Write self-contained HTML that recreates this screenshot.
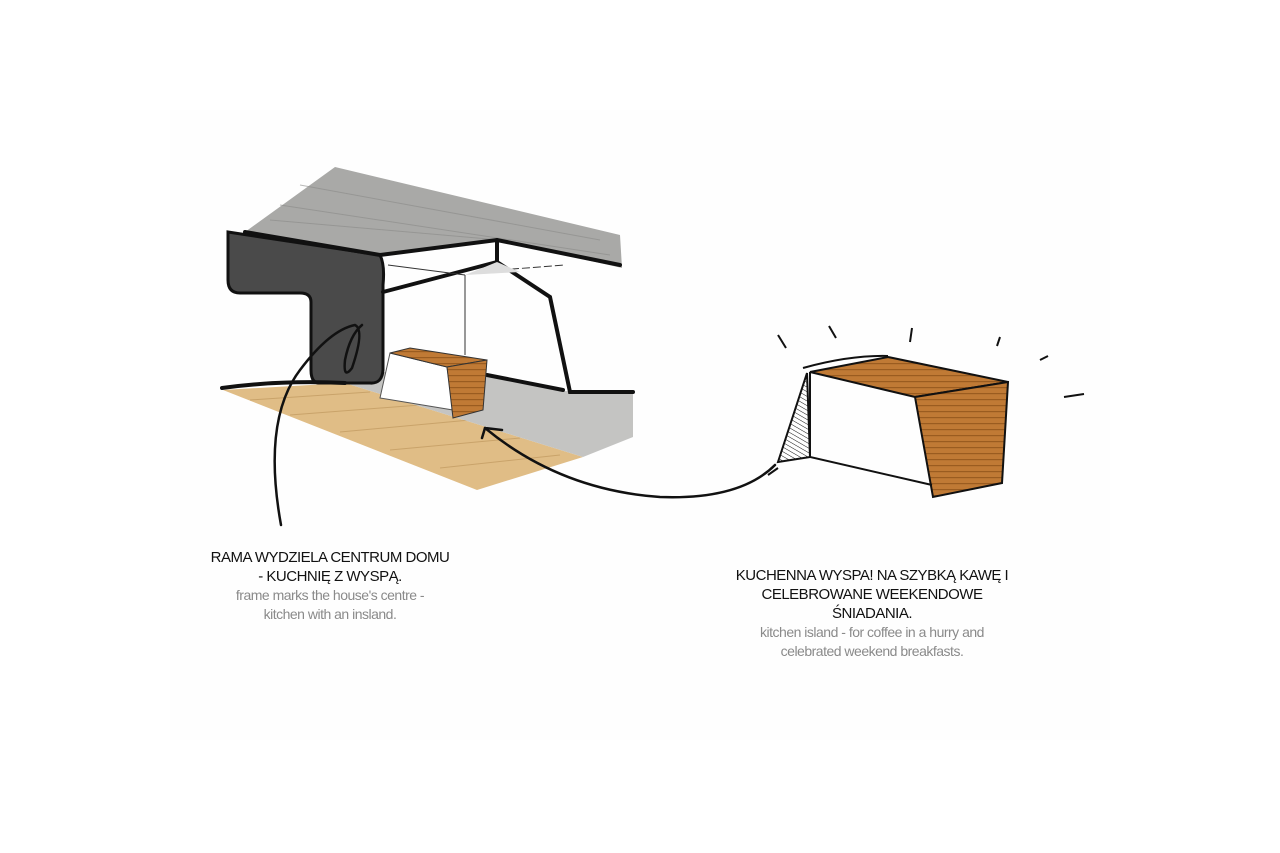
<!DOCTYPE html>
<html><head><meta charset="utf-8"><style>
body{margin:0;width:1280px;height:853px;background:#fff;overflow:hidden;font-family:"Liberation Sans","Noto Sans CJK JP",sans-serif}
.t{position:absolute;text-align:center;font-size:15px;line-height:19px;letter-spacing:-0.5px}
.b{color:#111}.g{color:#8a8a8a;font-size:14px}
</style></head><body>
<svg width="1280" height="853" style="position:absolute;left:0;top:0">
<defs>
<pattern id="wood" width="40" height="6" patternUnits="userSpaceOnUse"><rect width="40" height="6" fill="#c07a35"/><rect y="3" width="40" height="1.2" fill="#9a5c20"/></pattern>
<pattern id="hatch" width="4" height="4" patternUnits="userSpaceOnUse" patternTransform="rotate(-60)"><line x1="0" y1="0" x2="0" y2="4" stroke="#111" stroke-width="1"/></pattern>
</defs>
<rect x="170" y="110" width="940" height="630" fill="#fefefe"/>
<polygon points="223,390 345,383 583,457 477,490" fill="#e0bd86"/>
<g stroke="#c9a36a" stroke-width="1"><line x1="250" y1="400" x2="370" y2="392"/><line x1="290" y1="415" x2="420" y2="405"/><line x1="340" y1="432" x2="470" y2="420"/><line x1="390" y1="450" x2="520" y2="438"/><line x1="440" y1="468" x2="560" y2="455"/></g>
<polygon points="345,383 380,372 487,375 563,391 633,393 633,437 583,457" fill="#c4c4c2"/>
<polygon points="335,167 620,235 622,268 497,240 380,255 245,232" fill="#a9a9a7"/>
<g stroke="#8a8a88" stroke-width="1" opacity=".6"><line x1="300" y1="185" x2="600" y2="240"/><line x1="280" y1="205" x2="610" y2="255"/><line x1="270" y1="220" x2="500" y2="240"/></g>
<path d="M228,232 L380,255 Q385,265 383,285 L383,370 Q382,384 370,383 L318,383 Q311,382 311,370 L311,302 Q311,293 300,293 L240,293 Q228,293 228,280 Z" fill="#4a4a4a" stroke="#111" stroke-width="3"/>
<g stroke="#111" stroke-width="4" fill="none" stroke-linecap="round">
<path d="M245,232 L380,255 L497,240 L620,265"/>
<path d="M497,240 L497,265"/>
<path d="M383,292 L497,262 L550,297 L570,392 L633,392"/>
<path d="M487,375 L563,390"/>
<path d="M222,388 Q280,380 345,383"/>
</g>
<g stroke="#333" stroke-width="1" fill="none"><line x1="388" y1="265" x2="465" y2="275"/><line x1="465" y1="275" x2="465" y2="355"/><line x1="500" y1="270" x2="565" y2="265" stroke-dasharray="8,3"/></g>
<polygon points="465,275 497,262 520,272" fill="#ddd"/>
<polygon points="390,353 380,398 453,410 447,367" fill="#fff" stroke="#555" stroke-width="1"/>
<polygon points="390,353 410,348 487,360 447,367" fill="url(#wood)" stroke="#333"/>
<polygon points="447,367 487,360 483,410 453,418" fill="url(#wood)" stroke="#333"/>
<g stroke="#111" stroke-width="2.5" fill="none" stroke-linecap="round">
<path d="M281,525 Q262,420 300,370 Q330,330 355,325 Q365,330 352,368 Q343,380 345,360 Q350,335 362,325"/>
<path d="M775,465 Q740,500 660,497 Q560,490 485,428"/>
<path d="M485,428 L482,438 M485,428 L502,430"/>
</g>
<polygon points="807,373 778,462 810,457" fill="url(#hatch)" stroke="#111" stroke-width="2"/>
<polygon points="810,372 888,357 1008,382 915,397" fill="url(#wood)" stroke="#111" stroke-width="2"/>
<polygon points="915,397 1008,382 1002,483 933,497" fill="url(#wood)" stroke="#111" stroke-width="2"/>
<g stroke="#111" stroke-width="2" fill="none"><path d="M810,372 L810,457 L932,485"/><path d="M803,368 Q850,355 888,356"/>
<path d="M778,335 L786,348 M829,326 L836,338 M912,328 L910,342 M1000,337 L997,346 M1040,360 L1048,356 M1064,397 L1084,394 M768,475 L778,468"/></g>
</svg>
<div class="t" style="left:170px;top:548px;width:320px"><div class="b">RAMA WYDZIELA CENTRUM DOMU</div><div class="b">- KUCHNIĘ Z WYSPĄ.</div><div class="g">frame marks the house's centre -</div><div class="g">kitchen with an insland.</div></div>
<div class="t" style="left:702px;top:566px;width:340px"><div class="b">KUCHENNA WYSPA! NA SZYBKĄ KAWĘ I</div><div class="b">CELEBROWANE WEEKENDOWE</div><div class="b">ŚNIADANIA.</div><div class="g">kitchen island - for coffee in a hurry and</div><div class="g">celebrated weekend breakfasts.</div></div>
</body></html>
